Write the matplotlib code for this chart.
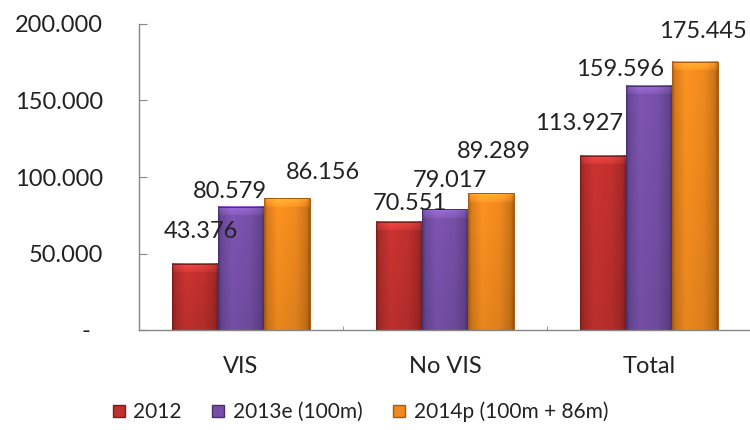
import numpy as np
import matplotlib
matplotlib.use("Agg")
import matplotlib.pyplot as plt
from matplotlib.lines import Line2D
from matplotlib.colors import to_rgb

categories = ["VIS", "No VIS", "Total"]
series_names = ["2012", "2013e (100m)", "2014p (100m + 86m)"]
values_2012 = [43376, 70551, 113927]
values_2013 = [80579, 79017, 159596]
values_2014 = [86156, 89289, 175445]
value_labels = [["43.376", "70.551", "113.927"],
                ["80.579", "79.017", "159.596"],
                ["86.156", "89.289", "175.445"]]
y_ticks = [0, 50000, 100000, 150000, 200000]

colors = ["#c0302e", "#7650a8", "#f08a1e"]
edges = ["#7d1c1a", "#4a2f70", "#a85a0e"]
# label offsets in pixels (dx, dy) from the bar top, as placed in the original
label_offsets = [[(6, 32), (11, 19), (-24, 32)],
                 [(-11, 15), (5, 29), (-29, 16)],
                 [(36, 26), (3, 42), (8, 30)]]

plt.rcParams['font.family'] = ['Lato', 'DejaVu Sans']
text_color = "#222222"

fig = plt.figure(figsize=(7.5, 4.3), dpi=100)
ax = fig.add_axes([139/750, 100/430, 612/750, 306/430])

x = np.arange(len(categories))
w = 0.225
all_vals = [values_2012, values_2013, values_2014]


def shade_bar(ax, x0, x1, h, base, zorder):
    # horizontal bevel: dark edges, bright core; lighter cap at the top
    nx = 40
    u = np.linspace(0, 1, nx)
    prof = np.interp(u, [0, 0.06, 0.3, 0.7, 0.94, 1],
                     [0.7, 0.9, 1.06, 1.0, 0.85, 0.68])
    rgb = np.array(to_rgb(base))
    # body, slightly darker near the base line
    ny = 50
    v = np.linspace(0, 1, ny)[:, None]          # 0 top -> 1 bottom
    vert = 1.0 - 0.08 * v
    body = np.clip(rgb[None, None, :] * (prof[None, :] * vert)[:, :, None], 0, 1)
    cap = 5500
    ax.imshow(body, extent=[x0, x1, 0, h - cap], aspect='auto',
              zorder=zorder, interpolation='bilinear')
    # top bevel
    nc = 12
    t = np.linspace(1.22, 1.02, nc)[:, None]
    top = np.clip(rgb[None, None, :] * (prof[None, :] * t)[:, :, None] + 0.03, 0, 1)
    ax.imshow(top, extent=[x0, x1, h - cap, h], aspect='auto',
              zorder=zorder, interpolation='bilinear')


for i, vals in enumerate(all_vals):
    pos = x + (i - 1) * w
    bars = ax.bar(pos, vals, w, facecolor='none', edgecolor=edges[i],
                  linewidth=0.7, zorder=3)
    for j, b in enumerate(bars):
        shade_bar(ax, b.get_x(), b.get_x() + b.get_width(), b.get_height(),
                  colors[i], 2)
        dx, dy = label_offsets[i][j]
        ax.annotate(value_labels[i][j], (pos[j], vals[j]),
                    xytext=(dx * 0.72, dy * 0.72), textcoords='offset points',
                    ha='center', va='center', fontsize=17, color=text_color,
                    zorder=5)

ax.set_xlim(-0.5, 2.5)
ax.set_ylim(0, 200000)
ax.set_yticks(y_ticks)
ax.set_yticklabels(["-  " if v == 0 else f"{v // 1000}.000" for v in y_ticks])
ax.set_xticks(x)
ax.set_xticklabels(categories)
ax.set_xticks([0.5, 1.5], minor=True)
ax.tick_params(axis='x', which='major', length=0, pad=19, labelsize=17,
               labelcolor=text_color)
ax.tick_params(axis='x', which='minor', length=3, direction='in',
               color='#868686')
ax.tick_params(axis='y', direction='in', length=6, pad=26, labelsize=17,
               labelcolor=text_color, color='#868686')

for s in ['top', 'right']:
    ax.spines[s].set_visible(False)
for s in ['left', 'bottom']:
    ax.spines[s].set_color('#868686')
    ax.spines[s].set_linewidth(1.0)

handles = [Line2D([], [], marker='s', linestyle='none', markersize=9,
                  markerfacecolor=colors[i], markeredgecolor=edges[i])
           for i in range(3)]
fig.legend(handles, series_names, loc='center', bbox_to_anchor=(0.479, 0.043),
           ncol=3, frameon=False, fontsize=15, handlelength=0.8,
           handletextpad=0.3, columnspacing=1.35, labelcolor=text_color)

fig.savefig("out.png", dpi=100)
